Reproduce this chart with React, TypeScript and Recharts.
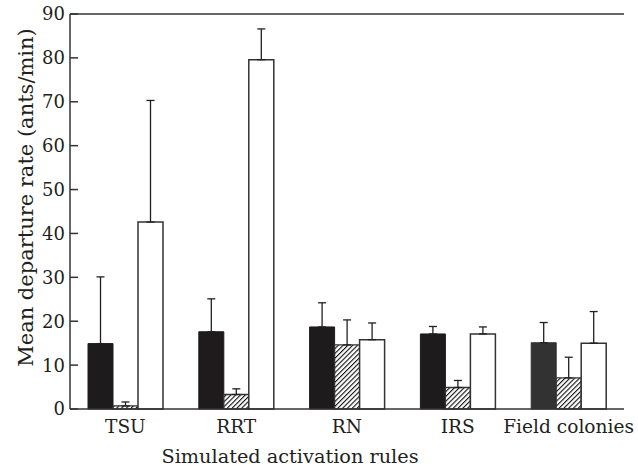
import { BarChart, Bar, XAxis, YAxis, ErrorBar, Cell, ReferenceLine } from "recharts";

const categories = ["TSU", "RRT", "RN", "IRS", "Field colonies"];
const solidValues = [14.9, 17.6, 18.7, 17.1, 15.1];
const solidErrors = [15.2, 7.5, 5.5, 1.7, 4.6];
const hatchedValues = [0.7, 3.3, 14.6, 4.9, 7.1];
const hatchedErrors = [0.9, 1.3, 5.7, 1.6, 4.7];
const openValues = [42.6, 79.6, 15.8, 17.1, 15.0];
const openErrors = [27.7, 7.0, 3.8, 1.6, 7.2];
const yTicks = [0, 10, 20, 30, 40, 50, 60, 70, 80, 90];

const FONT = "'DejaVu Serif', serif";
const INK = "#231f20";

// error bars only go upward, so lower error is 0
const data = categories.map((name, i) => ({
  name,
  solid: solidValues[i],
  solidErr: [0, solidErrors[i]],
  hatched: hatchedValues[i],
  hatchedErr: [0, hatchedErrors[i]],
  open: openValues[i],
  openErr: [0, openErrors[i]],
}));

const YLabel = (props: any) => {
  const { viewBox } = props;
  const x = viewBox.x + 33;
  const y = viewBox.y + viewBox.height / 2 - 14;
  return (
    <text
      x={x}
      y={y}
      transform={`rotate(-90 ${x} ${y})`}
      textAnchor="middle"
      fontFamily={FONT}
      fontSize={21}
      fill={INK}
    >
      Mean departure rate (ants/min)
    </text>
  );
};

const XLabel = (props: any) => {
  const { viewBox } = props;
  const x = viewBox.x + viewBox.width / 2 - 57;
  const y = viewBox.y + 54;
  return (
    <text x={x} y={y} textAnchor="middle" fontFamily={FONT} fontSize={19.3} fill={INK}>
      Simulated activation rules
    </text>
  );
};

export default function App() {
  return (
    <div style={{ position: "absolute", left: 0, top: 0 }}>
      <BarChart
        width={638}
        height={469}
        data={data}
        margin={{ top: 14, right: 14, left: 0, bottom: 0 }}
        barSize={25}
        barGap={0}
      >
        <defs>
          <pattern
            id="hatch"
            patternUnits="userSpaceOnUse"
            width={3.4}
            height={3.4}
            patternTransform="rotate(45)"
          >
            <rect width={3.4} height={3.4} fill="#fff" />
            <line x1={0} y1={0} x2={0} y2={3.4} stroke="#111" strokeWidth={2.2} />
          </pattern>
        </defs>
        <XAxis
          dataKey="name"
          tickLine={false}
          tickSize={0}
          tickMargin={11}
          height={60}
          axisLine={{ stroke: "#333", strokeWidth: 1.5 }}
          tick={{ fontFamily: FONT, fontSize: 18.6, fill: INK }}
          label={{ content: XLabel }}
        />
        <YAxis
          domain={[0, 90]}
          ticks={yTicks}
          width={70}
          tickSize={-8}
          tickMargin={13}
          interval={0}
          axisLine={{ stroke: "#333", strokeWidth: 1.5 }}
          tickLine={{ stroke: "#333", strokeWidth: 1.5 }}
          tick={{ fontFamily: FONT, fontSize: 18, fill: INK }}
          label={{ content: YLabel }}
        />
        <YAxis
          yAxisId="right"
          orientation="right"
          domain={[0, 90]}
          width={0}
          tick={false}
          tickLine={false}
          axisLine={{ stroke: "#333", strokeWidth: 1.5 }}
        />
        <ReferenceLine y={90} stroke="#333" strokeWidth={1.5} />
        <Bar dataKey="solid" fill="#1e1b1c" stroke="#1e1b1c" strokeWidth={1} isAnimationActive={false}>
          {data.map((d, i) => (
            <Cell key={d.name} fill={i === 4 ? "#333233" : "#1e1b1c"} stroke={i === 4 ? "#333233" : "#1e1b1c"} />
          ))}
          <ErrorBar dataKey="solidErr" direction="y" width={4} stroke={INK} strokeWidth={1.3} />
        </Bar>
        <Bar dataKey="hatched" fill="url(#hatch)" stroke="#333" strokeWidth={1.3} isAnimationActive={false}>
          <ErrorBar dataKey="hatchedErr" direction="y" width={4} stroke={INK} strokeWidth={1.3} />
        </Bar>
        <Bar dataKey="open" fill="#fff" stroke="#333" strokeWidth={1.5} isAnimationActive={false}>
          <ErrorBar dataKey="openErr" direction="y" width={4} stroke={INK} strokeWidth={1.3} />
        </Bar>
      </BarChart>
    </div>
  );
}
